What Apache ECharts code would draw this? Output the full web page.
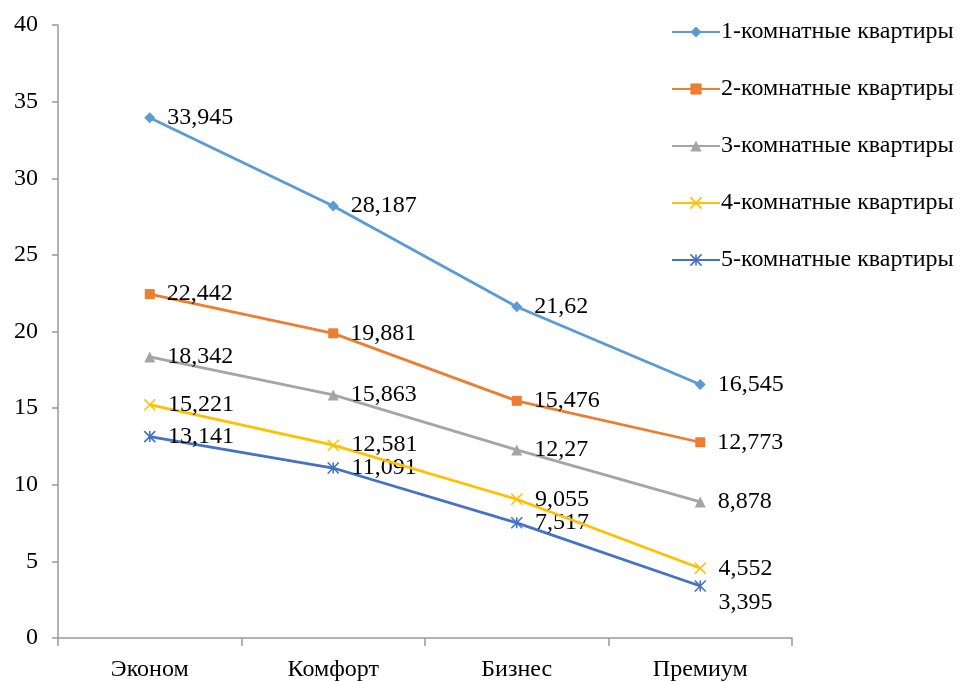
<!DOCTYPE html>
<html>
<head>
<meta charset="utf-8">
<script src="https://cdn.jsdelivr.net/npm/echarts@6/dist/echarts.min.js"></script>
<style>
  html, body { margin: 0; padding: 0; background: #fff; }
  #chart { width: 962px; height: 682px; }
</style>
</head>
<body>
<div id="chart"></div>
<script>
// Price segments along the x axis
const categories = ['Эконом', 'Комфорт', 'Бизнес', 'Премиум'];

// Values per apartment type
const rooms1 = [33.945, 28.187, 21.62, 16.545];
const rooms2 = [22.442, 19.881, 15.476, 12.773];
const rooms3 = [18.342, 15.863, 12.27, 8.878];
const rooms4 = [15.221, 12.581, 9.055, 4.552];
const rooms5 = [13.141, 11.091, 7.517, 3.395];

const seriesNames = [
  '1-комнатные квартиры',
  '2-комнатные квартиры',
  '3-комнатные квартиры',
  '4-комнатные квартиры',
  '5-комнатные квартиры'
];

const yTicks = { min: 0, max: 40, interval: 5 };

const FONT = '"Liberation Serif", "Times New Roman", serif';
const FS = 24;
const colors = ['#5B9BD5', '#ED7D31', '#A5A5A5', '#FFC000', '#4472C4'];
const symbols = [
  'diamond',
  'rect',
  'triangle',
  'path://M0,0L10,10M10,0L0,10',
  'path://M0,0L10,10M10,0L0,10M5,0L5,10'
];
const symbolSizes = [11, 10, 11, 11, 11];
const strokedSymbol = [false, false, false, true, true];

const fmt = p => String(p.value).replace('.', ',');

function symbolStyle(i) {
  return strokedSymbol[i]
    ? { color: 'rgba(0,0,0,0)', borderColor: colors[i], borderWidth: 1.6 }
    : { color: colors[i], borderColor: colors[i], borderWidth: 0 };
}

function makeSeries(idx, values, labelOffsets) {
  return {
    name: seriesNames[idx],
    type: 'line',
    data: values.map((v, i) => {
      const item = { value: v };
      if (labelOffsets && labelOffsets[i]) {
        item.label = { offset: labelOffsets[i] };
      }
      return item;
    }),
    symbol: symbols[idx],
    symbolSize: symbolSizes[idx],
    showAllSymbol: true,
    lineStyle: { color: colors[idx], width: 2.8 },
    itemStyle: symbolStyle(idx),
    label: {
      show: true,
      position: 'right',
      distance: 12,
      formatter: fmt,
      fontFamily: FONT,
      fontSize: FS,
      color: '#000'
    },
    emphasis: { disabled: true },
    animation: false,
    z: 10 - idx
  };
}

const chart = echarts.init(document.getElementById('chart'), null, { renderer: 'canvas' });

chart.setOption({
  backgroundColor: '#fff',
  color: colors,
  grid: { left: 58, right: 170, top: 25, bottom: 42, containLabel: false },
  legend: {
    orient: 'vertical',
    left: 666,
    top: 15,
    itemWidth: 48,
    itemHeight: 14,
    itemGap: 33,
    textStyle: { fontFamily: FONT, fontSize: FS, color: '#000', padding: [0, 0, 0, -4] },
    data: seriesNames.map((n, i) => ({ name: n, itemStyle: symbolStyle(i) }))
  },
  xAxis: {
    type: 'category',
    data: categories,
    boundaryGap: true,
    axisLine: { lineStyle: { color: '#999', width: 1.5 } },
    axisTick: { show: true, length: 8, lineStyle: { color: '#999', width: 1.5 } },
    axisLabel: { fontFamily: FONT, fontSize: FS, color: '#000', margin: 20 },
    splitLine: { show: false }
  },
  yAxis: {
    type: 'value',
    min: yTicks.min,
    max: yTicks.max,
    interval: yTicks.interval,
    axisLine: { show: true, lineStyle: { color: '#999', width: 1.5 } },
    axisTick: { show: true, length: 6, lineStyle: { color: '#999', width: 1.5 } },
    axisLabel: { fontFamily: FONT, fontSize: FS, color: '#000', margin: 20 },
    splitLine: { show: false }
  },
  series: [
    makeSeries(0, rooms1),
    makeSeries(1, rooms2),
    makeSeries(2, rooms3),
    makeSeries(3, rooms4),
    makeSeries(4, rooms5, [null, null, null, [0, 17]])
  ]
});
</script>
</body>
</html>
